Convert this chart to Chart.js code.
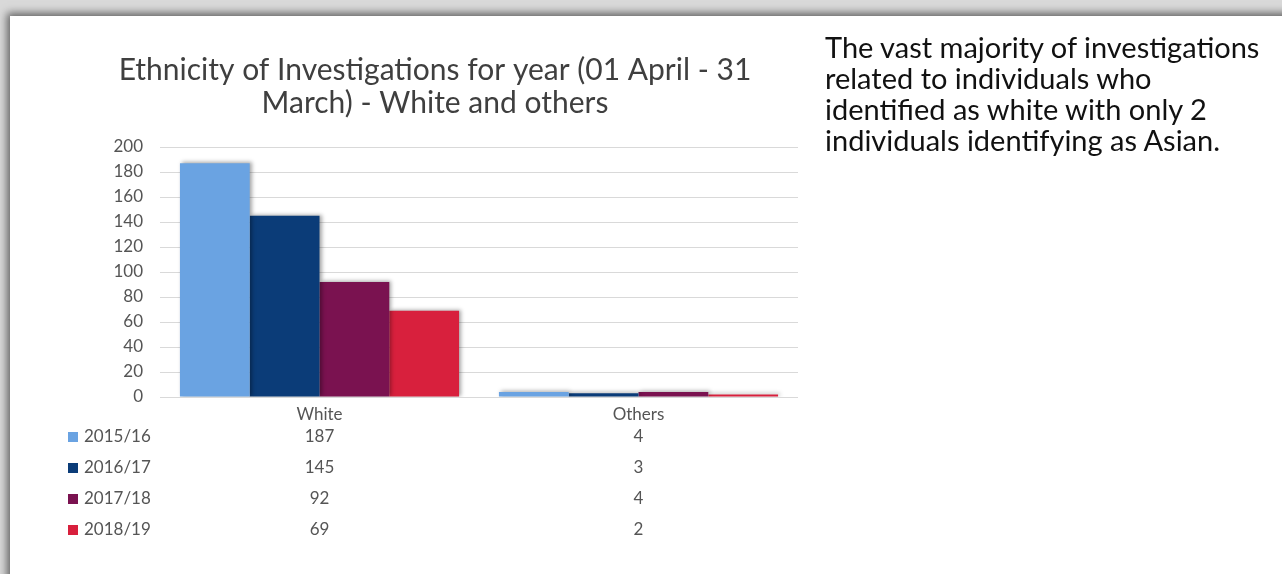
<!DOCTYPE html>
<html>
<head>
<meta charset="utf-8">
<script src="https://cdn.jsdelivr.net/npm/chart.js@4/dist/chart.umd.min.js"></script>
<style>
  html, body { margin: 0; padding: 0; }
  body { width: 1282px; height: 574px; overflow: hidden; background: #d9d9d9; position: relative; }
  #page { position: absolute; left: 10px; top: 16px; width: 1300px; height: 600px; background: #fff;
          box-shadow: -3px -3px 8px rgba(0,0,0,0.55); }
  #chartWrap { position: absolute; left: 10px; top: 16px; width: 850px; height: 558px; }
  #note { position: absolute; left: 825px; top: 31px; width: 460px; font-family: Lato, "Open Sans", sans-serif;
          font-size: 29px; line-height: 31px; color: #111; white-space: nowrap; }
</style>
</head>
<body>
<div id="page"></div>
<div id="chartWrap"><canvas id="c" width="850" height="558"></canvas></div>
<div id="note">The vast majority of investigations<br>related to individuals who<br>identified as white with only 2<br>individuals identifying as Asian.</div>
<script>
const categories = ["White", "Others"];
const seriesNames = ["2015/16", "2016/17", "2017/18", "2018/19"];
const v2015 = [187, 4];
const v2016 = [145, 3];
const v2017 = [92, 4];
const v2018 = [69, 2];
const seriesColors = ["#6aa3e2", "#0b3c78", "#7a1250", "#d8203d"];
const titleLines = ["Ethnicity of Investigations for year (01 April - 31", "March) - White and others"];

const values = [v2015, v2016, v2017, v2018];
const FONT = "Lato, 'Open Sans', sans-serif";
const GREY = "#555555";

const shadowPlugin = {
  id: 'barShadow',
  beforeDatasetsDraw(chart) {
    const ctx = chart.ctx;
    ctx.save();
    ctx.shadowColor = 'rgba(0,0,0,0.35)';
    ctx.shadowBlur = 4;
    ctx.shadowOffsetX = 2;
    ctx.shadowOffsetY = -1;
  },
  afterDatasetsDraw(chart) { chart.ctx.restore(); }
};

const tablePlugin = {
  id: 'dataTable',
  afterDraw(chart) {
    const ctx = chart.ctx;
    const xs = chart.scales.x;
    const rowY0 = chart.chartArea.bottom + 40;
    const rowH = 31;
    ctx.save();
    ctx.font = "17px " + FONT;
    ctx.textBaseline = 'middle';
    seriesNames.forEach((name, r) => {
      const y = rowY0 + r * rowH;
      ctx.fillStyle = seriesColors[r];
      ctx.fillRect(58, y - 5, 10, 10);
      ctx.fillStyle = GREY;
      ctx.textAlign = 'left';
      ctx.fillText(name, 74, y);
      ctx.textAlign = 'center';
      categories.forEach((cat, i) => {
        ctx.fillText(String(values[r][i]), xs.getPixelForValue(i), y);
      });
    });
    ctx.restore();
  }
};

new Chart(document.getElementById('c'), {
  type: 'bar',
  data: {
    labels: categories,
    datasets: seriesNames.map((n, i) => ({
      label: n,
      data: values[i],
      backgroundColor: seriesColors[i],
      borderWidth: 0,
      categoryPercentage: 0.875,
      barPercentage: 1.0
    }))
  },
  options: {
    responsive: false,
    animation: false,
    devicePixelRatio: 1,
    layout: { padding: { left: 62, right: 62, top: 0, bottom: 147 } },
    plugins: {
      legend: { display: false },
      tooltip: { enabled: false },
      title: {
        display: true,
        text: titleLines,
        color: "#3f3f3f",
        font: { family: FONT, size: 30, weight: 'normal', lineHeight: 1.1 },
        padding: { top: 38, bottom: 27 }
      }
    },
    scales: {
      x: {
        grid: { display: false, drawTicks: false },
        border: { display: false },
        ticks: { color: GREY, font: { family: FONT, size: 17 }, padding: 7 },
        afterFit(s) { s.height = 30; }
      },
      y: {
        min: 0, max: 200,
        grid: { color: "#d9d9d9", drawTicks: false, lineWidth: 1 },
        border: { display: false },
        ticks: { stepSize: 20, color: GREY, font: { family: FONT, size: 17 }, padding: 17 },
        afterFit(s) { s.width = 88; }
      }
    }
  },
  plugins: [shadowPlugin, tablePlugin]
});
</script>
</body>
</html>
